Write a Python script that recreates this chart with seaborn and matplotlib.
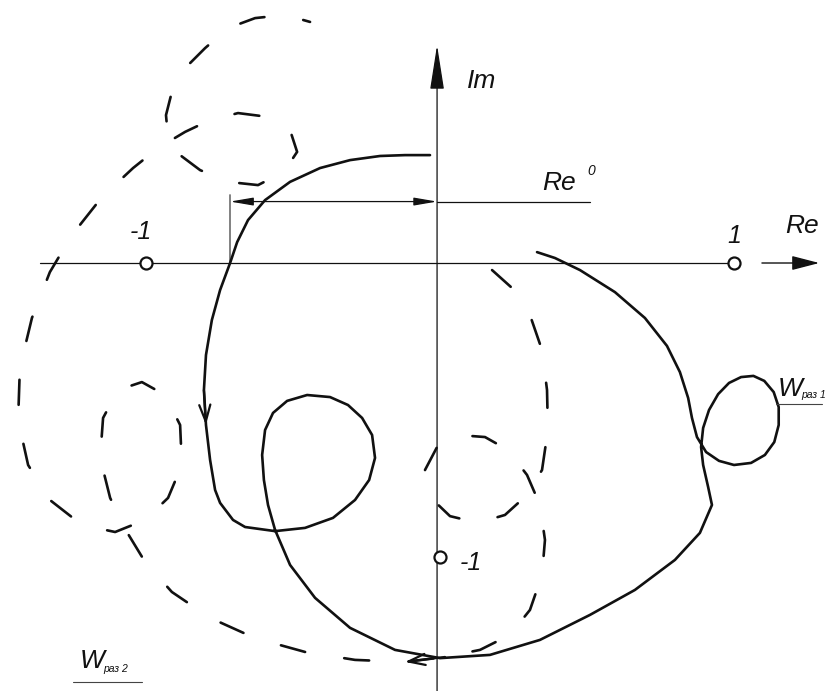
import matplotlib
matplotlib.use("Agg")
import matplotlib.pyplot as plt
import seaborn as sns

# Nyquist plot of the open-loop responses W_раз1 (solid) and W_раз2 (dashed)

# solid hodograph, W_раз1 (Re, Im)
w1_re = [-0.034, -0.119, -0.204, -0.306, -0.408, -0.510, -0.595, -0.653, -0.690, -0.714,
         -0.748, -0.776, -0.796, -0.803, -0.796, -0.782, -0.765, -0.748, -0.704, -0.663,
         -0.561, -0.459, -0.364, -0.289, -0.241, -0.221, -0.231, -0.265, -0.313, -0.374,
         -0.452, -0.520, -0.568, -0.595, -0.605, -0.599, -0.585, -0.561, -0.510, -0.425,
         -0.306, -0.153, 0.000, 0.170, 0.340, 0.510, 0.663, 0.799, 0.884, 0.925,
         0.912, 0.895, 0.888, 0.895, 0.915, 0.946, 0.983, 1.024, 1.066, 1.103,
         1.135, 1.152, 1.152, 1.137, 1.105, 1.058, 1.000, 0.949, 0.905, 0.874,
         0.857, 0.844, 0.816, 0.772, 0.697, 0.595, 0.476, 0.391, 0.330]
w1_im = [0.367, 0.367, 0.364, 0.350, 0.323, 0.276, 0.214, 0.146, 0.071, 0.000,
         -0.092, -0.194, -0.313, -0.432, -0.551, -0.670, -0.772, -0.816, -0.874, -0.898,
         -0.912, -0.901, -0.867, -0.806, -0.738, -0.663, -0.585, -0.527, -0.483, -0.456,
         -0.449, -0.469, -0.510, -0.568, -0.653, -0.738, -0.823, -0.908, -1.027, -1.139,
         -1.241, -1.316, -1.344, -1.333, -1.282, -1.197, -1.112, -1.010, -0.918, -0.823,
         -0.762, -0.687, -0.626, -0.561, -0.500, -0.446, -0.408, -0.388, -0.384, -0.401,
         -0.439, -0.490, -0.551, -0.609, -0.653, -0.680, -0.687, -0.673, -0.643, -0.592,
         -0.527, -0.459, -0.371, -0.282, -0.187, -0.099, -0.024, 0.017, 0.037]

# dashed hodograph, W_раз2 (Re, Im)
w2_re = [0.177, 0.245, 0.306, 0.347, 0.364, 0.367, 0.347, 0.296, 0.221, 0.129,
         0.034, -0.034, -0.051, -0.010, 0.061, 0.153, 0.231, 0.296, 0.340, 0.357,
         0.347, 0.306, 0.238, 0.136, 0.017, -0.119, -0.289, -0.459, -0.629, -0.782,
         -0.912, -1.003, -1.065, -1.122, -1.156, -1.146, -1.095, -1.014, -0.935, -0.884,
         -0.878, -0.925, -1.003, -1.105, -1.218, -1.327, -1.401, -1.435, -1.429, -1.388,
         -1.327, -1.252, -1.150, -1.044, -0.959, -0.867, -0.789, -0.687, -0.585, -0.510,
         -0.486, -0.531, -0.619, -0.721, -0.816, -0.884, -0.925, -0.932, -0.912, -0.867,
         -0.799, -0.721, -0.629, -0.527, -0.442]
w2_im = [-0.024, -0.085, -0.177, -0.296, -0.432, -0.568, -0.704, -0.789, -0.857, -0.884,
         -0.861, -0.796, -0.704, -0.626, -0.585, -0.592, -0.636, -0.721, -0.823, -0.942,
         -1.061, -1.180, -1.265, -1.316, -1.340, -1.357, -1.350, -1.323, -1.276, -1.207,
         -1.119, -1.017, -0.915, -0.799, -0.663, -0.527, -0.432, -0.405, -0.449, -0.551,
         -0.687, -0.799, -0.874, -0.915, -0.891, -0.806, -0.687, -0.534, -0.357, -0.187,
         -0.031, 0.095, 0.224, 0.323, 0.391, 0.446, 0.483, 0.510, 0.497, 0.452,
         0.378, 0.310, 0.265, 0.276, 0.316, 0.367, 0.425, 0.503, 0.582, 0.663,
         0.731, 0.799, 0.833, 0.844, 0.820]

# critical points and their labels
crit_re = [-1.0, 1.0, 0.0]
crit_im = [0.0, 0.0, -1.0]
crit_labels = ["-1", "1", "-1"]

re0 = -0.714          # real-axis crossing of W_раз1 (Re°)

sns.set_style("white")
plt.rcParams["font.family"] = ["Liberation Sans", "DejaVu Sans"]

fig = plt.figure(figsize=(8.3, 6.91), dpi=100)
ax = fig.add_axes([0, 0, 1, 1])
ax.set_xlim(-1.4966, 1.3265)
ax.set_ylim(-1.4558, 0.8946)
ax.set_axis_off()

ink = "#111111"

# coordinate axes
ax.plot([-1.361, 0.997], [0, 0], color=ink, lw=0.9, zorder=1)
ax.annotate("", xy=(1.29, 0), xytext=(1.095, 0),
            arrowprops=dict(arrowstyle="-|>,head_length=0.85,head_width=0.22",
                            color=ink, lw=1.0, mutation_scale=20, shrinkA=0, shrinkB=0))
ax.annotate("", xy=(-0.010, 0.741), xytext=(-0.010, -1.46),
            arrowprops=dict(arrowstyle="-|>,head_length=1.4,head_width=0.22",
                            color=ink, lw=0.9, mutation_scale=20, shrinkA=0, shrinkB=0))

lab = dict(fontsize=19, style="italic", color=ink)
ax.text(0.09, 0.62, "Im", ha="left", va="center", **lab)
ax.text(1.175, 0.125, "Re", ha="left", va="center", **lab)

# Re° dimension
ax.plot([re0, re0], [0, 0.231], color="#777777", lw=1.3, zorder=1)
ax.annotate("", xy=(re0, 0.209), xytext=(-0.010, 0.209),
            arrowprops=dict(arrowstyle="<|-|>,head_length=0.7,head_width=0.12",
                            color=ink, lw=0.9, mutation_scale=20, shrinkA=0, shrinkB=0))
ax.plot([-0.010, 0.510], [0.209, 0.209], color=ink, lw=0.9, zorder=1)
ax.text(0.347, 0.232, "Re", ha="left", va="bottom", **lab)
ax.text(0.500, 0.290, "0", ha="left", va="bottom", fontsize=10, style="italic", color=ink)

# hodographs
sns.lineplot(x=w1_re, y=w1_im, sort=False, estimator=None, color=ink, lw=1.9,
             solid_joinstyle="round", ax=ax)
sns.lineplot(x=w2_re, y=w2_im, sort=False, estimator=None, color=ink, lw=1.9,
             linestyle=(0, (9.5, 15)), dash_joinstyle="round", dash_capstyle="round", ax=ax)

# direction marks
ax.annotate("", xy=(w1_re[14], w1_im[14]), xytext=(w1_re[13], w1_im[13]),
            arrowprops=dict(arrowstyle="->,head_length=0.6,head_width=0.2",
                            color=ink, lw=1.6, mutation_scale=20, shrinkA=0, shrinkB=0))
ax.annotate("", xy=(w2_re[25], w2_im[25]), xytext=(w2_re[24], w2_im[24]),
            arrowprops=dict(arrowstyle="->,head_length=0.6,head_width=0.2",
                            color=ink, lw=1.6, mutation_scale=20, shrinkA=0, shrinkB=0))

# critical points
sns.scatterplot(x=crit_re, y=crit_im, s=75, marker="o", facecolor="white",
                edgecolor=ink, linewidth=1.6, zorder=5, ax=ax)
offsets = [(-4, 14), (0, 11), (14, -4)]
aligns = [("center", "bottom"), ("center", "bottom"), ("left", "center")]
for x, y, t, off, (ha, va) in zip(crit_re, crit_im, crit_labels, offsets, aligns):
    ax.annotate(t, (x, y), xytext=off, textcoords="offset points", ha=ha, va=va,
                fontsize=18, style="italic", color=ink)

# curve labels
ax.text(1.150, -0.452, "W", ha="left", va="baseline", fontsize=19, style="italic", color=ink)
ax.text(1.228, -0.460, "раз 1", ha="left", va="baseline", fontsize=7.5, style="italic", color=ink)
ax.plot([1.143, 1.30], [-0.478, -0.478], color="#444444", lw=0.8)

ax.text(-1.224, -1.378, "W", ha="left", va="baseline", fontsize=19, style="italic", color=ink)
ax.text(-1.146, -1.391, "раз 2", ha="left", va="baseline", fontsize=7.5, style="italic", color=ink)
ax.plot([-1.248, -1.014], [-1.425, -1.425], color="#444444", lw=0.8)

fig.savefig("out.png", dpi=100)
